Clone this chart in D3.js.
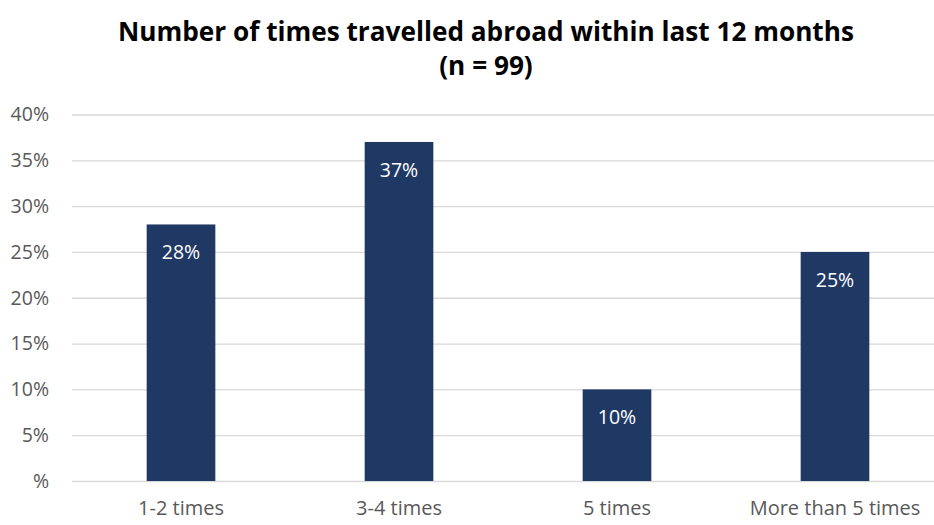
<!DOCTYPE html>
<html>
<head>
<meta charset="utf-8">
<script src="https://cdn.jsdelivr.net/npm/d3@7/dist/d3.min.js"></script>
<style>
  html, body { margin: 0; padding: 0; background: #fff; }
  svg { display: block; }
</style>
</head>
<body>
<svg id="chart" width="934" height="525"></svg>
<script>
// Survey result: trips abroad in the last 12 months
const categories = ["1-2 times", "3-4 times", "5 times", "More than 5 times"];
const shares = [28, 37, 10, 25];
const yTicks = [0, 5, 10, 15, 20, 25, 30, 35, 40];
const yTickLabels = ["%", "5%", "10%", "15%", "20%", "25%", "30%", "35%", "40%"];
const titleLines = ["Number of times travelled abroad within last 12 months", "(n = 99)"];

const svg = d3.select("#chart");
const font = "'Open Sans', sans-serif";

const x = d3.scaleBand()
  .domain(categories)
  .range([72, 944])
  .paddingInner(0.685)
  .paddingOuter(0.3425);

const y = d3.scaleLinear()
  .domain([0, 40])
  .range([481, 114.5]);

// Title
svg.append("g").selectAll("text")
  .data(titleLines)
  .join("text")
  .attr("x", 486)
  .attr("y", (d, i) => 41 + i * 34)
  .attr("text-anchor", "middle")
  .attr("font-family", font)
  .attr("font-weight", "bold")
  .attr("font-size", 26.2)
  .attr("fill", "#000")
  .text(d => d);

// Horizontal gridlines with percentage labels
const yAxis = d3.axisLeft(y)
  .tickValues(yTicks)
  .tickSize(-(934 - 72))
  .tickPadding(23)
  .tickFormat((d, i) => yTickLabels[i]);

const gy = svg.append("g")
  .attr("transform", "translate(72,0)")
  .call(yAxis);
gy.select(".domain").remove();
gy.selectAll(".tick line").attr("stroke", "#d9d9d9").attr("stroke-width", 1.3);
gy.selectAll(".tick text")
  .attr("font-family", font)
  .attr("font-size", 19.5)
  .attr("fill", "#595959");

// Category axis
const xAxis = d3.axisBottom(x).tickSize(0).tickPadding(20);
const gx = svg.append("g")
  .attr("transform", "translate(0,481)")
  .call(xAxis);
gx.select(".domain").remove();
gx.selectAll(".tick text")
  .attr("font-family", font)
  .attr("font-size", 20)
  .attr("fill", "#595959");

// Bars
svg.append("g").selectAll("rect")
  .data(shares)
  .join("rect")
  .attr("x", (d, i) => x(categories[i]))
  .attr("y", d => y(d))
  .attr("width", x.bandwidth())
  .attr("height", d => y(0) - y(d))
  .attr("fill", "#203864");

// Value labels inside bar tops
svg.append("g").selectAll("text")
  .data(shares)
  .join("text")
  .attr("x", (d, i) => x(categories[i]) + x.bandwidth() / 2)
  .attr("y", d => y(d) + 35)
  .attr("text-anchor", "middle")
  .attr("font-family", font)
  .attr("font-size", 19.5)
  .attr("fill", "#fff")
  .text(d => d + "%");
</script>
</body>
</html>
